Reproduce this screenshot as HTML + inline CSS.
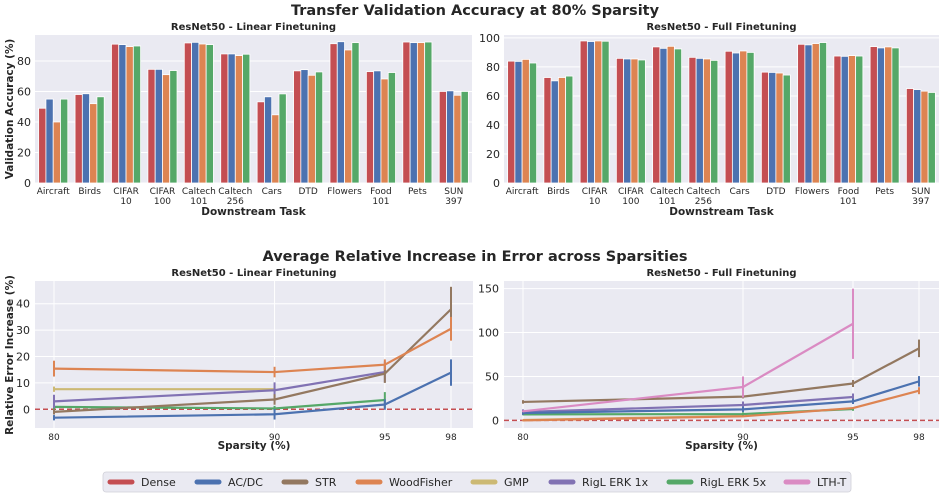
<!DOCTYPE html>
<html><head><meta charset="utf-8"><style>
body{margin:0;background:#fff;}
svg{display:block;font-family:"DejaVu Sans","Liberation Sans",sans-serif;}
</style></head><body>
<svg id="c" width="951" height="495"></svg>
<script>
const cats=["Aircraft","Birds","CIFAR\n10","CIFAR\n100","Caltech\n101","Caltech\n256","Cars","DTD","Flowers","Food\n101","Pets","SUN\n397"];
const barSeriesNames=["Dense","AC/DC","WoodFisher","RigL ERK 5x"];
const linDense=[49,58,91,74.5,91.8,84.6,53.2,73.5,91.3,73,92.4,60];
const linACDC=[55,58.5,90.7,74.5,92.2,84.6,56.5,74.3,92.6,73.5,92,60.4];
const linWF=[40,52,89.4,71,91.1,83.5,44.7,70.6,87.2,68.2,92,57.5];
const linRigL5=[55,56.5,89.8,73.7,90.7,84.4,58.4,72.8,92,72.4,92.4,60];
const fullDense=[84,72.7,97.9,85.9,93.8,86.6,90.8,76.4,95.6,87.5,94,65.1];
const fullACDC=[83.8,70.4,97.5,85.5,92.8,85.9,89.6,76.2,95.2,87.3,93.1,64.4];
const fullWF=[85.2,72.7,97.9,85.5,94.2,85.5,91,75.8,96.1,87.8,93.8,63.3];
const fullRigL5=[82.7,73.7,97.7,84.8,92.4,84.5,90,74.4,96.8,87.5,93.1,62.4];
const linTicks=[0,20,40,60,80];
const fullTicks=[0,20,40,60,80,100];
const sparsity=[80,90,95,98];
// line data: [values], [errors]
const L_ACDC=[-3.2,-1.9,1.8,13.9], L_ACDC_e=[1,2,2,5];
const L_STR=[-1,3.7,13.5,37.9], L_STR_e=[1,2,3.5,8.5];
const L_WF=[15.4,14.1,16.9,30.5], L_WF_e=[3,2,2,4.5];
const L_GMP=[7.6,7.6], L_GMP_e=[1,1];
const L_R1=[3,7.2,14.1], L_R1_e=[2.5,3,4];
const L_R5=[0.9,0.3,3.5], L_R5_e=[1,1,3];
const F_LTH=[10.3,38,110], F_LTH_e=[1,12,40];
const F_STR=[21,27,42,82], F_STR_e=[2,2,4,10];
const F_R1=[9.5,17.5,26.6], F_R1_e=[3,4,4];
const F_ACDC=[8.4,12.5,21.6,44.4], F_ACDC_e=[2,3,3,6];
const F_R5=[6.8,7.2,12.9], F_R5_e=[1,2,2];
const F_WF=[0,4.6,14,33.8], F_WF_e=[1,1,1,4];
const F_GMP=[0.5,5], F_GMP_e=[0.5,1];
const linErrTicks=[0,10,20,30,40];
const fullErrTicks=[0,50,100,150];
const legendNames=["Dense","AC/DC","STR","WoodFisher","GMP","RigL ERK 1x","RigL ERK 5x","LTH-T"];

const C={red:"#C44E52",blue:"#4C72B0",green:"#55A868",orange:"#DD8452",brown:"#937860",yellow:"#CCB974",purple:"#8172B3",pink:"#DA8BC3"};
const svg=document.getElementById('c');
const NS="http://www.w3.org/2000/svg";
function el(t,a,p){const e=document.createElementNS(NS,t);for(const k in a)e.setAttribute(k,a[k]);(p||svg).appendChild(e);return e;}
function txt(s,a,p){const e=el('text',a,p);e.textContent=s;return e;}

let t=txt("Transfer Validation Accuracy at 80% Sparsity",{x:475,y:15,'text-anchor':'middle','font-size':14.5,'font-weight':'bold',fill:'#262626'});


t=txt("Average Relative Increase in Error across Sparsities",{x:475,y:261,'text-anchor':'middle','font-size':14.5,'font-weight':'bold',fill:'#262626'});



function barPanel(x0,x1,y0,y1,vmax,ticks,series,title,name,showY){
  const g=el('g',{});
  
  
  el('rect',{x:x0,y:y0,width:x1-x0,height:y1-y0,fill:'#EAEAF2'},g);
  const ys=v=>y1-(v/vmax)*(y1-y0);
  ticks.forEach(v=>{el('line',{x1:x0,x2:x1,y1:ys(v),y2:ys(v),stroke:'#fff','stroke-width':1},g);
    const tt=txt(String(v),{x:x0-4,y:ys(v)+4,'text-anchor':'end','font-size':11,fill:'#262626'},g);
    
    });
  const gw=(x1-x0)/cats.length, bw=gw*0.8/4;
  const cols=[C.red,C.blue,C.orange,C.green];
  cats.forEach((c,i)=>{
    series.forEach((s,j)=>{
      const x=x0+gw*i+gw*0.1+bw*j;
      const r=el('rect',{x:x,y:ys(s[i]),width:bw,height:y1-ys(s[i]),fill:cols[j],stroke:'#fff','stroke-width':0.8},g);
      
      
    });
    c.split("\n").forEach((ln,k)=>{const tl=txt(ln,{x:x0+gw*(i+0.5),y:y1+11+k*10,'text-anchor':'middle','font-size':9,fill:'#262626'},g);
      
      });
  });
  const st=txt(title,{x:(x0+x1)/2,y:y0-5,'text-anchor':'middle','font-size':10,'font-weight':'bold',fill:'#262626'},g);
  
  
  const xl=txt("Downstream Task",{x:(x0+x1)/2,y:215,'text-anchor':'middle','font-size':10.5,'font-weight':'bold',fill:'#262626'},g);
  
  
}
barPanel(35,472,35,183,97,linTicks,[linDense,linACDC,linWF,linRigL5],"ResNet50 - Linear Finetuning","linear-bar-chart");
barPanel(504,939,35,183,102,fullTicks,[fullDense,fullACDC,fullWF,fullRigL5],"ResNet50 - Full Finetuning","full-bar-chart");
t=txt("Validation Accuracy (%)",{x:0,y:0,'text-anchor':'middle','font-size':10.5,'font-weight':'bold',fill:'#262626',transform:'translate(13,109) rotate(-90)'});



function linePanel(x0,x1,y0,y1,vmin,vmax,ticks,sx,lines,title,name){
  const g=el('g',{});
  
  
  el('rect',{x:x0,y:y0,width:x1-x0,height:y1-y0,fill:'#EAEAF2'},g);
  const ys=v=>y1-(v-vmin)/(vmax-vmin)*(y1-y0);
  const xs=s=>sx[0]+(s-80)*(sx[1]-sx[0])/18;
  ticks.forEach(v=>{el('line',{x1:x0,x2:x1,y1:ys(v),y2:ys(v),stroke:'#fff','stroke-width':1},g);
    const tt=txt(String(v),{x:x0-5,y:ys(v)+4,'text-anchor':'end','font-size':11,fill:'#262626'},g);
    
    });
  sparsity.forEach(s=>{el('line',{x1:xs(s),x2:xs(s),y1:y0,y2:y1,stroke:'#fff','stroke-width':1},g);
    const tt=txt(String(s),{x:xs(s),y:y1+12,'text-anchor':'middle','font-size':9,fill:'#262626'},g);
    
    });
  const d=el('line',{x1:x0,x2:x1,y1:ys(0),y2:ys(0),stroke:C.red,'stroke-width':1.5,'stroke-dasharray':'5,3'},g);
  
  
  lines.forEach(([vals,errs,col,nm])=>{
    const pts=vals.map((v,i)=>xs(sparsity[i])+','+ys(v)).join(' ');
    const p=el('polyline',{points:pts,fill:'none',stroke:col,'stroke-width':2.2,'stroke-linejoin':'round'},g);
    
    
    vals.forEach((v,i)=>{const e=el('line',{x1:xs(sparsity[i]),x2:xs(sparsity[i]),y1:ys(v-errs[i]),y2:ys(v+errs[i]),stroke:col,'stroke-width':2},g);
      
      });
  });
  const st=txt(title,{x:(x0+x1)/2,y:y0-5,'text-anchor':'middle','font-size':10,'font-weight':'bold',fill:'#262626'},g);
  
  
  const xl=txt("Sparsity (%)",{x:(x0+x1)/2,y:449,'text-anchor':'middle','font-size':10.5,'font-weight':'bold',fill:'#262626'},g);
  
  
}
linePanel(35,473,281,428,-7.1,48.6,linErrTicks,[54,451],[
 [L_GMP,L_GMP_e,C.yellow,'gmp'],[L_R5,L_R5_e,C.green,'rigl-5x'],[L_R1,L_R1_e,C.purple,'rigl-1x'],
 [L_ACDC,L_ACDC_e,C.blue,'acdc'],[L_STR,L_STR_e,C.brown,'str'],[L_WF,L_WF_e,C.orange,'woodfisher']],
 "ResNet50 - Linear Finetuning","linear-error-chart");
linePanel(504,939,281,428,-8.7,158.7,fullErrTicks,[523,919],[
 [F_GMP,F_GMP_e,C.yellow,'gmp'],[F_R5,F_R5_e,C.green,'rigl-5x'],[F_WF,F_WF_e,C.orange,'woodfisher'],
 [F_R1,F_R1_e,C.purple,'rigl-1x'],[F_ACDC,F_ACDC_e,C.blue,'acdc'],[F_STR,F_STR_e,C.brown,'str'],[F_LTH,F_LTH_e,C.pink,'lth-t']],
 "ResNet50 - Full Finetuning","full-error-chart");
t=txt("Relative Error Increase (%)",{x:0,y:0,'text-anchor':'middle','font-size':10.5,'font-weight':'bold',fill:'#262626',transform:'translate(13,355) rotate(-90)'});



const lg=el('g',{});


el('rect',{x:103,y:472,width:748,height:20,rx:3,fill:'#EAEAF2',stroke:'#d0d0d8','stroke-width':0.8},lg);
const lcols=[C.red,C.blue,C.brown,C.orange,C.yellow,C.purple,C.green,C.pink];
const lx=[107,194,281,355,470,548,666,783];
legendNames.forEach((n,i)=>{
  const s=el('line',{x1:lx[i]+3,x2:lx[i]+25,y1:482,y2:482,stroke:lcols[i],'stroke-width':5,'stroke-linecap':'round'},lg);
  
  
  const tt=txt(n,{x:lx[i]+34,y:486,'font-size':11,fill:'#262626'},lg);
  
  
});
</script>
</body></html>
